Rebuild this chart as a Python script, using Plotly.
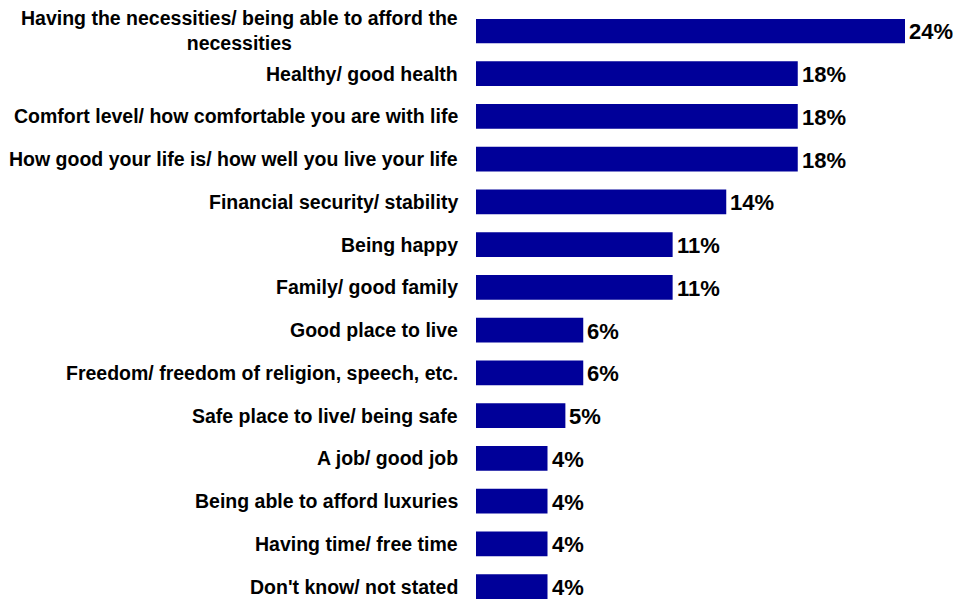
import plotly.graph_objects as go

categories = [
    "Having the necessities/ being able to afford the<br>necessities",
    "Healthy/ good health",
    "Comfort level/ how comfortable you are with life",
    "How good your life is/ how well you live your life",
    "Financial security/ stability",
    "Being happy",
    "Family/ good family",
    "Good place to live",
    "Freedom/ freedom of religion, speech, etc.",
    "Safe place to live/ being safe",
    "A job/ good job",
    "Being able to afford luxuries",
    "Having time/ free time",
    "Don't know/ not stated",
]
values = [24, 18, 18, 18, 14, 11, 11, 6, 6, 5, 4, 4, 4, 4]
value_labels = [f"{v}%" for v in values]

FONT = "Liberation Sans, Arial, sans-serif"

fig = go.Figure(
    go.Bar(
        x=values,
        y=categories,
        orientation="h",
        marker=dict(color="#000099", line=dict(width=0)),
        width=0.58,
        hoverinfo="skip",
    )
)

for v, lab, c in zip(values, value_labels, categories):
    fig.add_annotation(
        x=v, xref="x", y=c, yref="y",
        text=lab, showarrow=False,
        xanchor="left", yanchor="middle", xshift=2, yshift=-1,
        font=dict(family=FONT, size=22, color="#000000", weight="bold"),
    )

for c in categories:
    fig.add_annotation(
        x=0, xref="paper", y=c, yref="y",
        text=c, showarrow=False,
        xanchor="right", yanchor="middle", align="center",
        xshift=-16,
        font=dict(family=FONT, size=19.5, color="#000000", weight="bold"),
    )

fig.update_layout(
    width=953, height=600,
    margin=dict(l=468, r=10, t=11, b=0),
    paper_bgcolor="white", plot_bgcolor="white",
    showlegend=False,
    xaxis=dict(range=[0, 475 / (429 / 24)], visible=False, fixedrange=True),
    yaxis=dict(range=[-0.5, 13.28], autorange=False, showticklabels=False,
               showgrid=False, zeroline=False, showline=False, ticks="",
               categoryorder="array", categoryarray=categories[::-1]),
)

fig.write_html("out.html")
